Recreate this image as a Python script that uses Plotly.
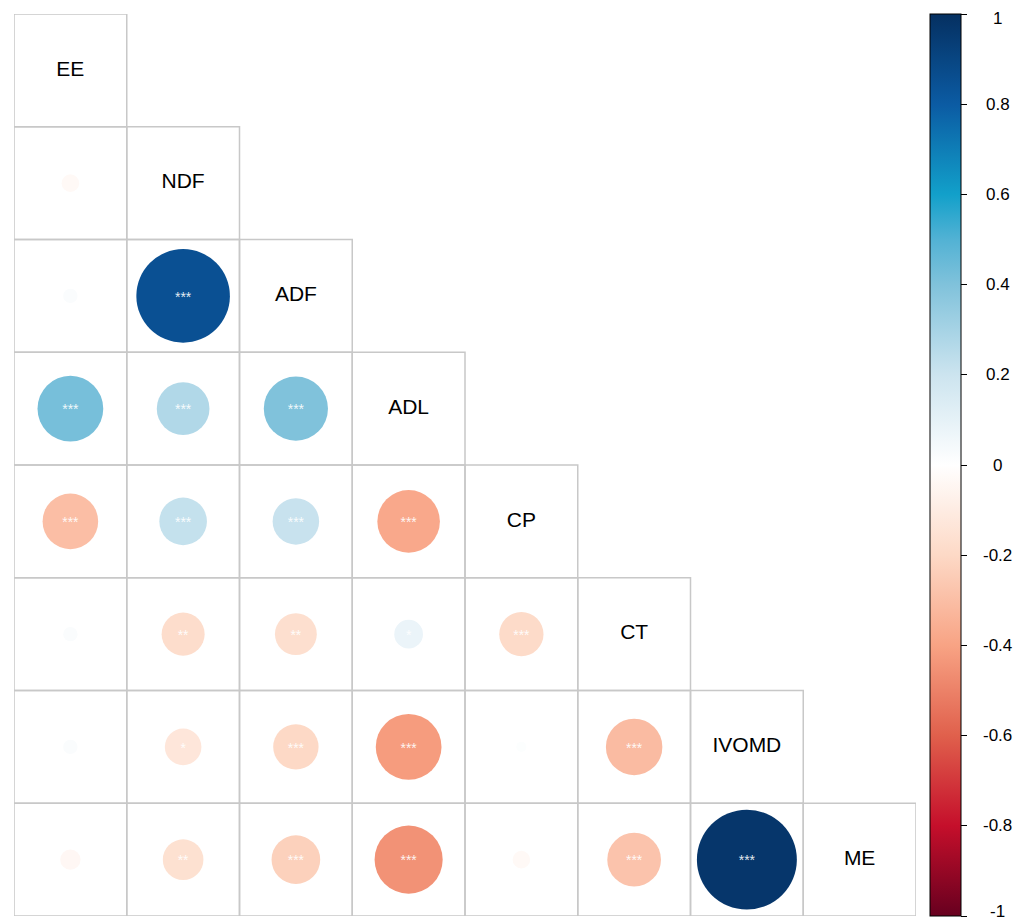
import plotly.graph_objects as go
import math

variables = ["EE", "NDF", "ADF", "ADL", "CP", "CT", "IVOMD", "ME"]

# lower-triangle correlations (row i, columns 0..i-1)
corr_rows = [
    [],
    [-0.03],
    [0.02, 0.85],
    [0.42, 0.27, 0.40],
    [-0.30, 0.22, 0.21, -0.38],
    [0.02, -0.18, -0.17, 0.08, -0.19],
    [0.02, -0.13, -0.20, -0.42, 0.01, -0.31],
    [-0.04, -0.16, -0.23, -0.45, -0.03, -0.28, 0.97],
]

sig_rows = [
    [],
    [""],
    ["", "***"],
    ["***", "***", "***"],
    ["***", "***", "***", "***"],
    ["", "**", "**", "*", "***"],
    ["", "*", "***", "***", "", "***"],
    ["", "**", "***", "***", "", "***", "***"],
]

colorbar_ticks = [1, 0.8, 0.6, 0.4, 0.2, 0, -0.2, -0.4, -0.6, -0.8, -1]

# palette sampled from the reference colour legend (value, colour)
palette_vals = [-1.0, -0.8, -0.6, -0.4, -0.2, 0.0, 0.2, 0.4, 0.5, 0.6, 0.8, 1.0]
palette_cols = ["#67001F", "#C50F2B", "#E0604C", "#F8A384", "#FDD9C6", "#FFFFFF",
                "#CCE4EF", "#80C2DB", "#52B2D4", "#12A0CA", "#0B5BA3", "#053061"]
colorscale = [[(v + 1) / 2, c] for v, c in zip(palette_vals, palette_cols)]

W, H = 1029, 923
ml, mt = 14, 14
plot_px = 902
n = len(variables)
cell_px = plot_px / n

xs, ys, vals, sizes, stars = [], [], [], [], []
for i, row in enumerate(corr_rows):
    for j, r in enumerate(row):
        xs.append(j)
        ys.append(i)
        vals.append(r)
        sizes.append(0.9 * math.sqrt(abs(r)) * cell_px)
        stars.append(sig_rows[i][j])

fig = go.Figure()

# cell borders (lower triangle incl. diagonal)
for i in range(n):
    for j in range(i + 1):
        fig.add_shape(type="rect", x0=j - 0.5, x1=j + 0.5, y0=i - 0.5, y1=i + 0.5,
                      line=dict(color="#C8C8C8", width=1.5), layer="below")

fig.add_trace(go.Scatter(
    x=xs, y=ys, mode="markers",
    marker=dict(size=sizes, sizemode="diameter", color=vals, cmin=-1, cmax=1,
                opacity=1,
                colorscale=colorscale, line=dict(width=0),
                colorbar=dict(
                    x=(930 - ml) / plot_px, xanchor="left", xref="paper",
                    y=0.5, yanchor="middle", len=1, lenmode="fraction",
                    thickness=31, thicknessmode="pixels",
                    outlinecolor="black", outlinewidth=1,
                    xpad=0, ypad=0,
                    tickvals=colorbar_ticks,
                    showticklabels=False,
                    ticks="outside", ticklen=6, tickcolor="black",
                )),
    hoverinfo="skip", showlegend=False,
))

fig.add_trace(go.Scatter(
    x=xs, y=[y + 0.02 for y in ys], mode="text", text=stars,
    textfont=dict(family="Liberation Sans", size=14, color="rgba(255,255,255,0.9)"),
    hoverinfo="skip", showlegend=False,
))

fig.add_trace(go.Scatter(
    x=list(range(n)), y=list(range(n)), mode="text", text=variables,
    textfont=dict(family="Liberation Sans", size=21, color="black"),
    hoverinfo="skip", showlegend=False,
))

# colour legend labels, centred like the reference
for t in colorbar_ticks:
    fig.add_annotation(
        x=(998 - ml) / plot_px, xref="paper", y=(t + 1) / 2, yref="paper",
        text="%g" % t, showarrow=False, xanchor="center", yanchor="middle",
        yshift=(-4 if t == 1 else (5 if t == -1 else 0)),
        font=dict(family="Liberation Sans", size=17, color="black"),
    )

fig.update_layout(
    width=W, height=H,
    margin=dict(l=ml, t=mt, r=W - ml - plot_px, b=H - mt - plot_px, pad=0),
    paper_bgcolor="white", plot_bgcolor="white",
    xaxis=dict(range=[-0.5, n - 0.5], visible=False, fixedrange=True),
    yaxis=dict(range=[n - 0.5, -0.5], visible=False, fixedrange=True),
)

fig.write_html("out.html")
